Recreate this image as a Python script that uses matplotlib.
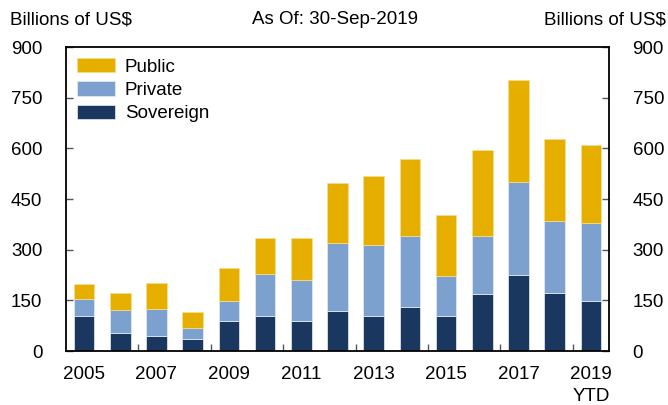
import matplotlib
matplotlib.use("Agg")
import matplotlib.pyplot as plt
import numpy as np

plt.rcParams['font.family'] = ['Liberation Sans', 'DejaVu Sans']

years = ["2005", "2006", "2007", "2008", "2009", "2010", "2011", "2012",
         "2013", "2014", "2015", "2016", "2017", "2018", "2019\nYTD"]
sovereign = [104, 52, 43, 35, 89, 103, 90, 119, 104, 130, 105, 168, 224, 172, 149]
private = [49, 70, 82, 33, 59, 126, 120, 200, 210, 211, 118, 172, 277, 212, 231]
public = [44, 51, 76, 47, 98, 107, 126, 178, 203, 227, 181, 255, 302, 244, 231]
yticks = [0, 150, 300, 450, 600, 750, 900]

c_sov = "#1A375F"
c_priv = "#7DA1CF"
c_pub = "#E6AF00"

fig = plt.figure(figsize=(6.68, 4.05), dpi=100)
ax = fig.add_axes([66/668, 1-351/405, (609-66)/668, (351-47)/405])

x = np.arange(len(years))
sov = np.array(sovereign)
priv = np.array(private)
pub = np.array(public)
w = 0.57
ec = "#E8EEF6"
ax.bar(x, sov, w, color=c_sov, edgecolor=ec, linewidth=0.5, label="Sovereign")
ax.bar(x, priv, w, bottom=sov, color=c_priv, edgecolor=ec, linewidth=0.5, label="Private")
ax.bar(x, pub, w, bottom=sov+priv, color=c_pub, edgecolor="#F5DE90", linewidth=0.5, label="Public")

ax.set_xlim(-0.5, len(years)-0.5)
ax.set_ylim(0, 900)
ax.set_yticks(yticks)
ax.tick_params(axis='y', which='major', direction='in', length=5, width=1, color='#555555',
               left=True, right=True, labelleft=True, labelright=True, labelsize=13.5, pad=17)

# x ticks: labels every other year, tick marks between pairs
ax.set_xticks(x[::2])
ax.set_xticklabels([years[i] for i in range(0, len(years), 2)], linespacing=1.35)
ax.tick_params(axis='x', which='major', length=0, labelsize=13.5, pad=11)
ax.set_xticks(np.arange(1.5, len(years)-1, 2), minor=True)
ax.tick_params(axis='x', which='minor', direction='in', length=5, width=1, color='#555555')

for s in ax.spines.values():
    s.set_linewidth(1.3)
    s.set_color('black')

h, l = ax.get_legend_handles_labels()
ax.legend(h[::-1], l[::-1], loc='upper left', bbox_to_anchor=(11/543, 1-11/304),
          frameon=False, fontsize=13.5, handlelength=2.05, handleheight=0.8,
          labelspacing=0.3, handletextpad=0.5, borderpad=0, borderaxespad=0)

fig.text(10/668, 1-20/405, "Billions of US$", fontsize=13.5, ha='left', va='center')
fig.text(335/668, 1-20/405, "As Of: 30-Sep-2019", fontsize=13.5, ha='center', va='center')
fig.text(666/668, 1-20/405, "Billions of US$", fontsize=13.5, ha='right', va='center')

fig.savefig("out.png", dpi=100)
